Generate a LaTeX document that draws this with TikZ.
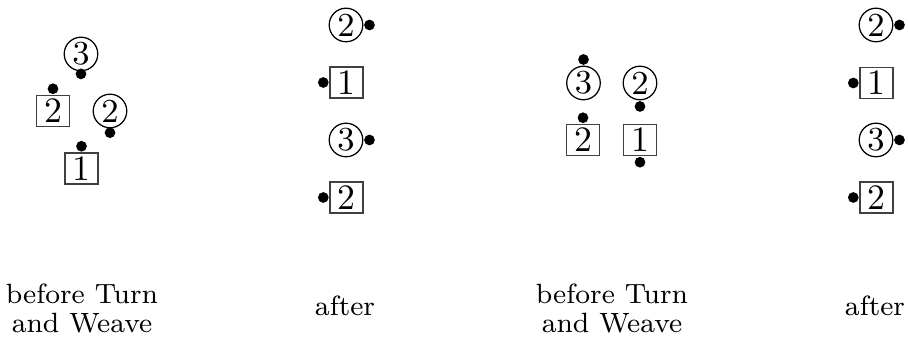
\documentclass[tikz,border=0pt]{standalone}
\usepackage{tikz}
\begin{document}
\begin{tikzpicture}[x=0.28pt,y=-0.28pt,
  sqn/.style={draw=black!75,line width=0.35pt,inner sep=0pt,minimum width=9.24pt,minimum height=8.7pt,font=\fontsize{10}{12}\selectfont},
  crn/.style={circle,draw,line width=0.35pt,inner sep=0pt,minimum size=9.4pt,font=\fontsize{9.4}{11}\selectfont},
  dotn/.style={circle,fill,inner sep=0pt,minimum size=3pt},
  lab/.style={inner sep=0pt,align=center,font=\fontsize{7.8}{7.9}\selectfont}]
\useasboundingbox (0,0) rectangle (908,339);
% ---- pair 1, before
\node[crn] (a3) at (81,54) {3};
\node[sqn] (a2) at (53,111) {2};
\node[crn] (aa2) at (110,111) {2};
\node[sqn] (a1) at (81.5,168.5) {1};
\node[dotn,anchor=north,yshift=1pt] (da3) at (a3.south) {};
\node[dotn,anchor=south] (da2) at (a2.north) {};
\node[dotn,anchor=north,yshift=0.5pt] (daa2) at (aa2.south) {};
\node[dotn,anchor=south] (da1) at (a1.north) {};
% ---- pair 1, after
\node[crn] (b2c) at (346,25) {2};
\node[sqn] (b1) at (346.5,82.5) {1};
\node[crn] (b3) at (346,140) {3};
\node[sqn] (b2) at (346.5,197.5) {2};
\node[dotn,anchor=west] (db2c) at (b2c.east) {};
\node[dotn,anchor=east] (db1) at (b1.west) {};
\node[dotn,anchor=west] (db3) at (b3.east) {};
\node[dotn,anchor=east] (db2) at (b2.west) {};
% ---- pair 2, before
\node[crn] (c3) at (583.5,83) {3};
\node[crn] (c2c) at (640,83) {2};
\node[sqn] (c2) at (583,140) {2};
\node[sqn] (c1) at (640,140) {1};
\node[dotn,anchor=south] (dc3) at (c3.north) {};
\node[dotn,anchor=north] (dc2c) at (c2c.south) {};
\node[dotn,anchor=south] (dc2) at (c2.north) {};
\node[dotn,anchor=north] (dc1) at (c1.south) {};
% ---- pair 2, after
\node[crn] (d2c) at (876,25) {2};
\node[sqn] (d1) at (876.5,83) {1};
\node[crn] (d3) at (876,140) {3};
\node[sqn] (d2) at (876.5,197.5) {2};
\node[dotn,anchor=west] (dd2c) at (d2c.east) {};
\node[dotn,anchor=east] (dd1) at (d1.west) {};
\node[dotn,anchor=west] (dd3) at (d3.east) {};
\node[dotn,anchor=east] (dd2) at (d2.west) {};
% ---- labels
\node[lab,anchor=north] (la) at (82,283.5) {before Turn\\and Weave};
\node[lab,anchor=base] (lb) at (345,315.5) {after};
\node[lab,anchor=north] (lc) at (612,283.5) {before Turn\\and Weave};
\node[lab,anchor=base] (ld) at (875,316) {after};
\end{tikzpicture}
\end{document}
